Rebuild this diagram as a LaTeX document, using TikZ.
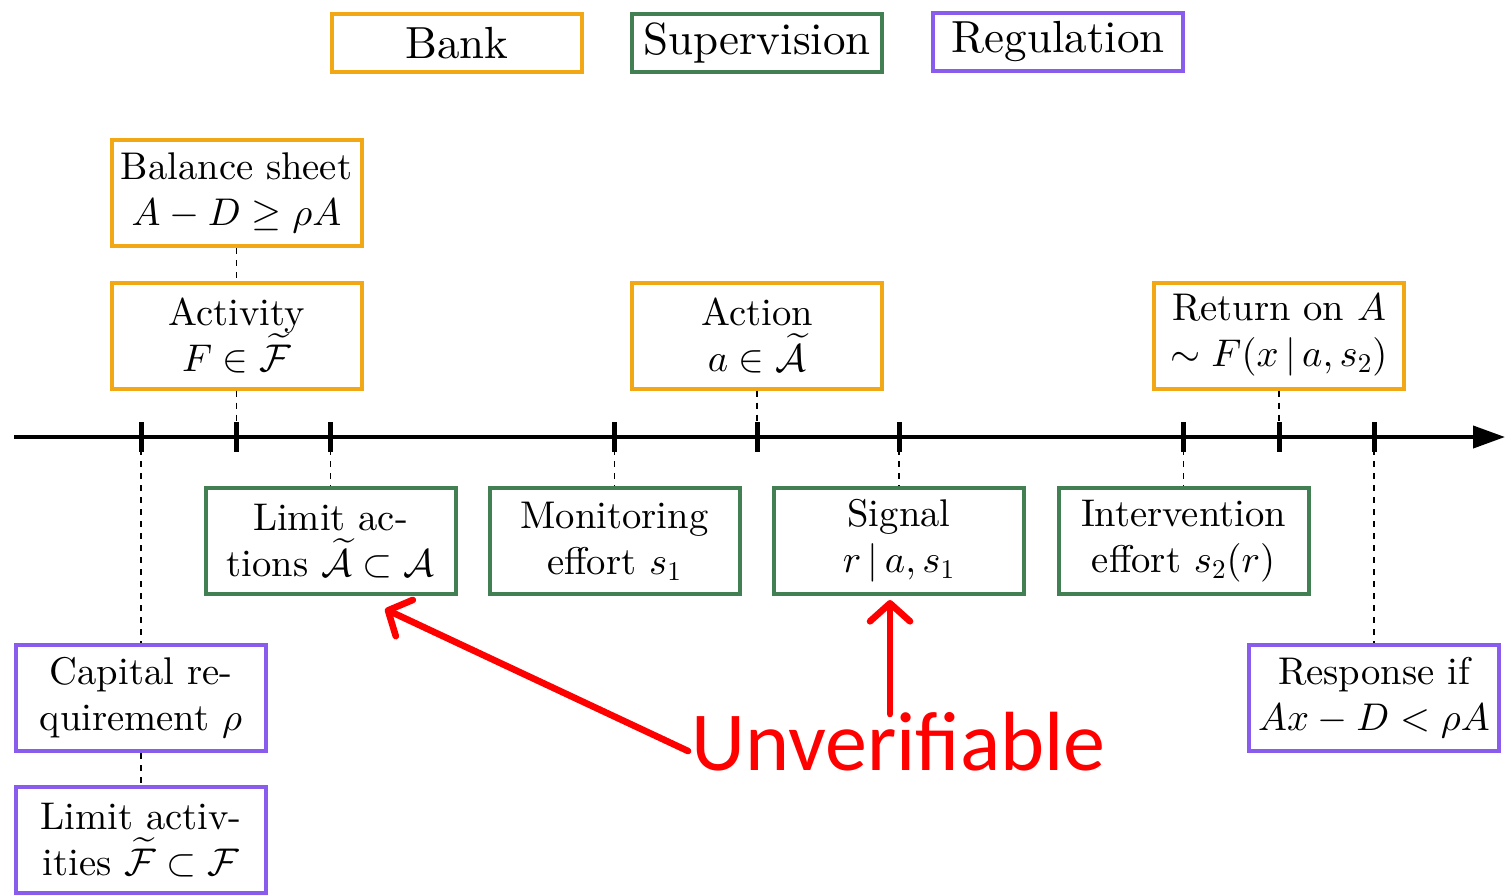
\documentclass[tikz,border=0pt]{standalone}
\usepackage{amsmath,amssymb}
\usepackage{fontspec}
\setmainfont{lmroman10-regular.otf}[
  BoldFont=lmroman10-bold.otf,
  ItalicFont=lmroman10-italic.otf,
  BoldItalicFont=lmroman10-bolditalic.otf]
\newfontfamily\calibri{Carlito}
% math in the 10pt design at every size
\DeclareFontShape{OML}{cmm}{m}{it}{<->cmmi10}{}
\DeclareFontShape{OMS}{cmsy}{m}{n}{<->cmsy10}{}
\DeclareFontShape{OT1}{cmr}{m}{n}{<->cmr10}{}
\usetikzlibrary{arrows.meta}

\definecolor{bankc}{RGB}{242,168,20}
\definecolor{supc}{RGB}{66,128,84}
\definecolor{regc}{RGB}{138,92,238}

\tikzset{
  boxbase/.style={draw, line width=2pt, fill=white, minimum width=125pt,
    minimum height=53pt, align=center, inner sep=2pt,
    font=\fontsize{19.3}{23}\selectfont},
  bankbox/.style={boxbase, draw=bankc},
  supbox/.style={boxbase, draw=supc},
  regbox/.style={boxbase, draw=regc},
  legendbox/.style={minimum height=29pt, font=\fontsize{22.5}{27}\selectfont},
  guide/.style={line width=0.6pt, dash pattern=on 3pt off 3pt},
  tickmark/.style={line width=2.5pt},
  timeline/.style={line width=2pt, -{Triangle[length=16pt,width=11pt]}},
  flag/.style={draw=red, line width=3.3pt, line cap=round,
    -{Straight Barb[length=9pt,width=20pt,round]}}
}

\begin{document}
\begin{tikzpicture}[x=0.5pt,y=-0.5pt]
\useasboundingbox[fill=white] (0,0) rectangle (1507,895);

% legend
\node[bankbox, legendbox] (lbank) at (457,43) {Bank};
\node[supbox, legendbox] (lsup) at (757,43) {Supervision};
\node[regbox, legendbox] (lreg) at (1058,42) {Regulation};

% time axis with its ticks
\coordinate (axstart) at (14,437);
\coordinate (axend) at (1505,437);
\foreach \i/\x in {1/141, 2/236.5, 3/330.5, 4/614.5, 5/757, 6/899, 7/1183.5, 8/1279, 9/1374}
  \coordinate (t\i) at (\x,437);

% bank events above the axis
\node[bankbox] (balance) at (236.5,193) {Balance sheet\\$A-D\geq\rho A$};
\node[bankbox] (activity) at (236.5,335.5) {Activity\\$F\in\widetilde{\mathcal{F}}$};
\node[bankbox] (action) at (757,335.5) {Action\\$a\in\widetilde{\mathcal{A}}$};
\node[bankbox] (ret) at (1279,335.5) {Return on $A$\\$\sim F(x\,|\,a,s_2)$};

% supervision events below the axis
\node[supbox] (limact) at (330.5,541) {Limit ac-\\tions $\widetilde{\mathcal{A}}\subset\mathcal{A}$};
\node[supbox] (monitor) at (614.5,541) {Monitoring\\effort $s_1$};
\node[supbox] (signal) at (899,541) {Signal\\$r\,|\,a,s_1$};
\node[supbox] (interv) at (1183.5,541) {Intervention\\effort $s_2(r)$};

% regulation events
\node[regbox] (capreq) at (141,698) {Capital re-\\quirement $\rho$};
\node[regbox] (limactiv) at (141,840) {Limit activ-\\ities $\widetilde{\mathcal{F}}\subset\mathcal{F}$};
\node[regbox] (response) at (1374,698) {Response if\\$Ax-D<\rho A$};

% dashed guides from ticks to events
\draw[guide] (balance) -- (activity);
\draw[guide] (activity) -- (t2);
\draw[guide] (action) -- (t5);
\draw[guide] (ret) -- (t8);
\draw[guide] (t1) -- (capreq);
\draw[guide] (capreq) -- (limactiv);
\draw[guide] (t3) -- (limact);
\draw[guide] (t4) -- (monitor);
\draw[guide] (t6) -- (signal);
\draw[guide] (t7) -- (interv);
\draw[guide] (t9) -- (response);

\draw[timeline] (axstart) -- (axend);
\foreach \i in {1,...,9}
  \draw[tickmark] ([yshift=7.5pt]t\i) -- ([yshift=-7.5pt]t\i);

% annotation
\node[text=red, font=\calibri\fontsize{42}{50}\selectfont, inner sep=0pt,
  anchor=base west] (unv) at (691,770) {Unverifiable};
\coordinate (u1) at (688,751);
\coordinate (h1) at (385,609);
\coordinate (u2) at (890,714);
\coordinate (h2) at (890,600);
\draw[flag] (u1) -- (h1);
\draw[flag] (u2) -- (h2);
\end{tikzpicture}
\end{document}
